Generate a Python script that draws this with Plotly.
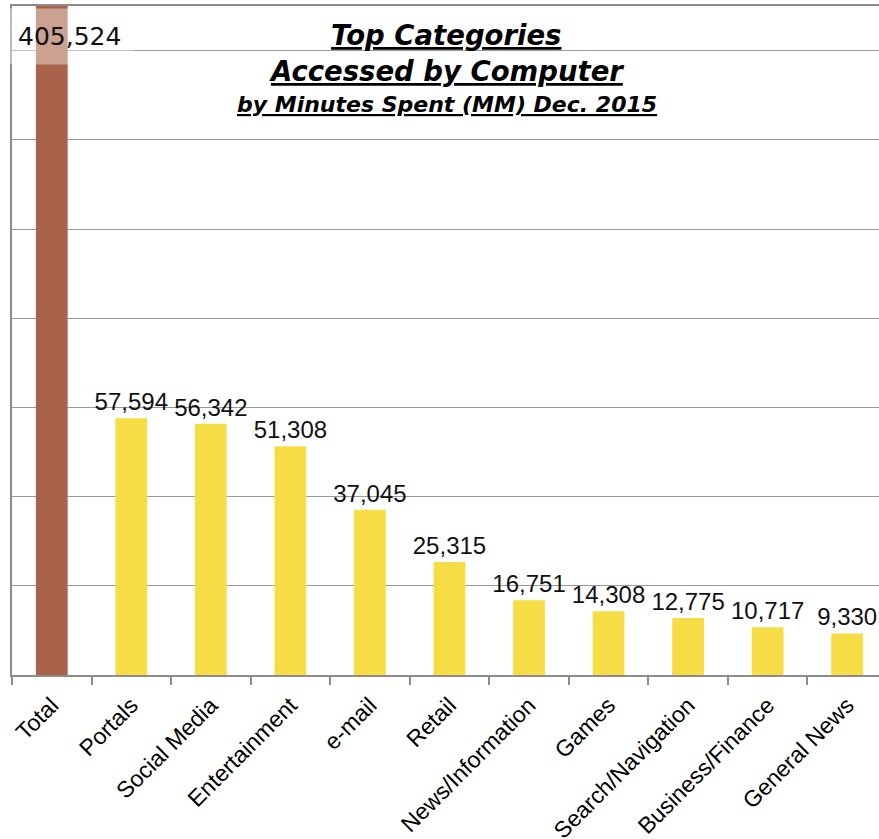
import plotly.graph_objects as go

categories = ["Total", "Portals", "Social Media", "Entertainment", "e-mail", "Retail",
              "News/Information", "Games", "Search/Navigation", "Business/Finance", "General News"]
minutes = [405524, 57594, 56342, 51308, 37045, 25315, 16751, 14308, 12775, 10717, 9330]
bar_colors = ["#A9634A"] + ["#F7DD45"] * 10
labels = [""] + [f"{v:,}" for v in minutes[1:]]

fig = go.Figure(go.Bar(
    x=categories, y=minutes, marker_color=bar_colors, marker_line_width=0,
    width=0.4, text=labels, textposition="outside", cliponaxis=True,
    textfont=dict(family="Liberation Sans, Arial", size=24, color="#111"),
))

fig.add_annotation(x=categories[0], xref="x", y=1, yref="paper", yanchor="top", xanchor="center",
                   xshift=18, yshift=-2, text=f"{minutes[0]:,}", showarrow=False,
                   font=dict(family="DejaVu Sans", size=25, color="#111"),
                   bgcolor="rgba(255,255,255,0.4)", borderpad=13)

title_font = "DejaVu Sans"
fig.add_annotation(x=0.5, xref="paper", y=1, yref="paper", yanchor="top", yshift=-11, xshift=1,
                   text="<b><i><u>Top Categories</u></i></b>", showarrow=False,
                   font=dict(family=title_font, size=27.5, color="black"))
fig.add_annotation(x=0.5, xref="paper", y=1, yref="paper", yanchor="top", yshift=-47, xshift=1,
                   text="<b><i><u>Accessed by Computer</u></i></b>", showarrow=False,
                   font=dict(family=title_font, size=27.5, color="black"))
fig.add_annotation(x=0.5, xref="paper", y=1, yref="paper", yanchor="top", yshift=-84, xshift=1,
                   text="<b><i><u>by Minutes Spent (MM) Dec. 2015</u></i></b>", showarrow=False,
                   font=dict(family=title_font, size=22, color="black"))

fig.update_layout(
    width=879, height=839, margin=dict(l=12, r=0, t=6, b=164, autoexpand=False),
    paper_bgcolor="white", plot_bgcolor="white", showlegend=False,
    font=dict(family="Liberation Sans, Arial", color="black"),
    barmode="overlay",
)
fig.update_xaxes(range=[-0.5, 10.4], tickson="boundaries", ticks="outside", ticklen=8,
                 tickcolor="#8c8c8c", tickwidth=1.5, showline=True, linecolor="#8c8c8c",
                 linewidth=1.5, mirror=True, tickangle=-45, showgrid=False, ticklabelstandoff=6,
                 automargin=False,
                 tickfont=dict(family="Liberation Sans, Arial", size=23, color="black"))
fig.update_yaxes(range=[0, 150000], dtick=20000, showgrid=True, gridcolor="#9a9a9a",
                 gridwidth=1.2, showticklabels=False, showline=True, linecolor="#8c8c8c",
                 linewidth=1.5, zeroline=False, ticks="", automargin=False)
fig.update_traces(constraintext="none")
fig.write_html("out.html")
